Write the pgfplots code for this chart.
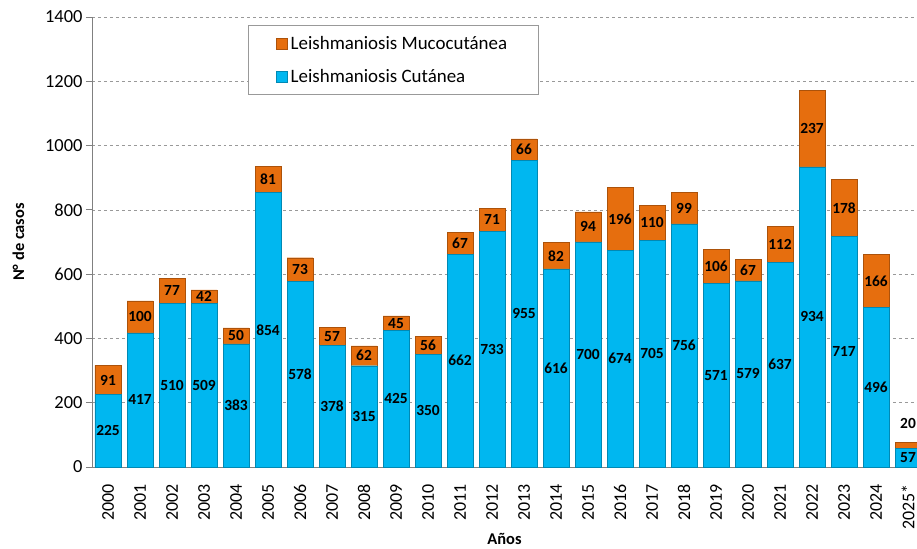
\documentclass[border=0pt]{standalone}
\usepackage{pgfplots}
\pgfplotsset{compat=1.18}
\usepackage{pgfplotstable}
\usepackage{fontspec}
\setmainfont{Carlito}
\usetikzlibrary{calc}

\definecolor{cl}{RGB}{0,183,240}
\definecolor{ml}{RGB}{230,110,14}

\pgfplotstableread{
x cl ml mlpos
0 225 91 270.5
1 417 100 467
2 510 77 548.5
3 509 42 530
4 383 50 408
5 854 81 894.5
6 578 73 614.5
7 378 57 406.5
8 315 62 346
9 425 45 447.5
10 350 56 378
11 662 67 695.5
12 733 71 768.5
13 955 66 988
14 616 82 657
15 700 94 747
16 674 196 772
17 705 110 760
18 756 99 805.5
19 571 106 624
20 579 67 612.5
21 637 112 693
22 934 237 1052.5
23 717 178 806
24 496 166 579
25 57 20 135
}\data

\pgfplotsset{
  common/.style={
    scale only axis, width=825bp, height=450bp,
    xmin=-0.5, xmax=25.28, ymin=0, ymax=1400,
  }
}

\begin{document}
\begin{tikzpicture}
\begin{axis}[
  name=a, common,
  ybar stacked, bar width=26bp,
  axis x line*=bottom, axis y line*=left,
  axis line style={gray, line width=0.8pt},
  ytick={0,200,...,1400},
  xtick={0,...,25},
  xticklabels={2000,2001,2002,2003,2004,2005,2006,2007,2008,2009,2010,2011,2012,2013,2014,2015,2016,2017,2018,2019,2020,2021,2022,2023,2024,2025*},
  x tick label style={rotate=90, anchor=east, font=\fontsize{18}{18}\selectfont},
  xticklabel shift=8bp,
  y tick label style={font=\fontsize{18.5}{18.5}\selectfont},
  /pgf/number format/assume math mode=true,
  /pgf/number format/set thousands separator={},
  major x tick style={draw=none},
  major y tick style={gray, line width=0.8pt},
  tick align=outside, major tick length=6bp,
  ymajorgrids, major grid style={dashed, gray!80, line width=0.6pt},
  ylabel={\textbf{N° de casos}}, ylabel style={font=\fontsize{16.5}{16.5}\selectfont},
  ylabel shift=14bp,
  xlabel={\textbf{Años}}, xlabel style={font=\fontsize{16.5}{16.5}\selectfont},
  xlabel shift=-3bp,
  legend style={at={(0.189,0.982)}, anchor=north west, draw=gray!80, line width=0.8pt,
    font=\fontsize{19}{19}\selectfont, inner xsep=28bp, inner ysep=9bp, row sep=14bp,
    legend cell align=left, nodes={inner xsep=3bp}},
  reverse legend,
  legend image code/.code={\draw[#1, line width=0.4pt] (4bp,-5.5bp) rectangle (15bp,5.5bp);},
]
\addplot[fill=cl, draw=cl!75!black, line width=0.4pt] table[x=x, y=cl] {\data};
\addlegendentry{Leishmaniosis Cutánea}
\addplot[fill=ml, draw=ml!75!black, line width=0.4pt] table[x=x, y=ml] {\data};
\addlegendentry{Leishmaniosis Mucocutánea}
\end{axis}
\begin{axis}[common, hide axis, clip=false]
\addplot[draw=none, mark=none, nodes near coords, nodes near coords align=center,
  point meta=explicit symbolic,
  every node near coord/.style={font=\fontsize{15.5}{15.5}\selectfont\bfseries, text=black, inner sep=0pt}]
  table[x=x, y expr=\thisrow{cl}/2, meta=cl] {\data};
\addplot[draw=none, mark=none, nodes near coords, nodes near coords align=center,
  point meta=explicit symbolic,
  every node near coord/.style={font=\fontsize{15.5}{15.5}\selectfont\bfseries, text=black, inner sep=0pt}]
  table[x=x, y=mlpos, meta=ml] {\data};
\end{axis}
\pgfresetboundingbox
\path[use as bounding box] ($(a.south west)+(-92bp,-82bp)$) rectangle ($(a.south west)+(825bp,467bp)$);
\end{tikzpicture}
\end{document}
